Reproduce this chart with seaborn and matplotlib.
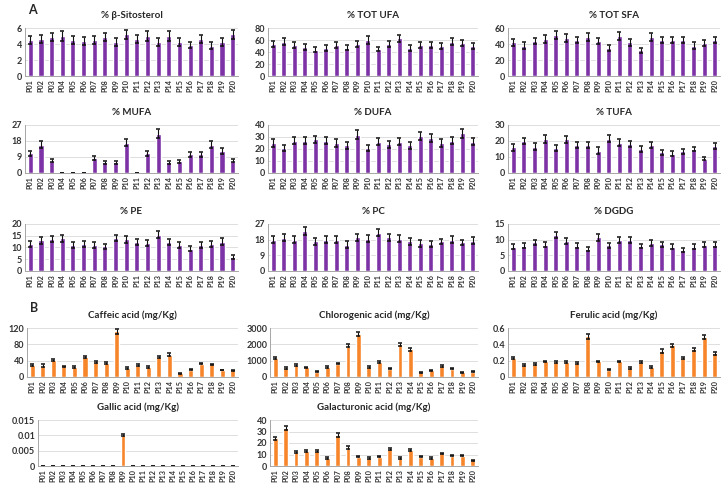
import matplotlib
matplotlib.use("Agg")
import matplotlib.pyplot as plt
import seaborn as sns

# --- data ---
samples = ["P01", "P02", "P03", "P04", "P05", "P06", "P07", "P08", "P09", "P10",
           "P11", "P12", "P13", "P14", "P15", "P16", "P17", "P18", "P19", "P20"]

sito = [4.5, 4.6, 4.9, 5.0, 4.5, 4.4, 4.5, 4.9, 4.2, 5.2, 4.6, 5.0, 4.3, 5.0, 4.3, 3.9, 4.6, 3.8, 4.3, 5.2]
sito_err = [0.5, 0.5, 0.5, 0.6, 0.5, 0.5, 0.5, 0.5, 0.5, 0.6, 0.5, 0.6, 0.5, 0.6, 0.5, 0.4, 0.5, 0.4, 0.5, 0.6]

ufa = [53, 57, 51, 48, 44, 47, 51, 47, 53, 60, 45, 53, 63, 47, 51, 51, 50, 57, 55, 50]
ufa_err = [5, 6, 5, 5, 4, 5, 5, 4, 5, 6, 4, 5, 6, 5, 5, 5, 5, 6, 5, 5]

sfa = [42, 38, 44, 46, 51, 48, 45, 49, 44, 35, 50, 42, 32, 49, 45, 45, 45, 38, 41, 45]
sfa_err = [4, 4, 4, 5, 5, 5, 4, 5, 4, 4, 5, 4, 3, 5, 4, 4, 4, 4, 4, 4]

mufa = [11, 16, 7, 0, 0, 0, 8.5, 6, 6, 17, 0, 11, 22, 6, 6.5, 10.5, 10.5, 16, 12.5, 7]
mufa_err = [1.5, 2, 1, 0, 0, 0, 1.2, 1, 1, 2, 0, 1.5, 2.5, 0.8, 0.8, 1.5, 1.5, 2, 1.8, 1]

dufa = [25, 21, 27, 27, 28, 27, 25, 23, 32, 21, 26, 24, 26, 23, 31, 29, 25, 27, 33, 26]
dufa_err = [3, 2.5, 3, 3, 3, 3, 3, 3, 3.5, 2.5, 3, 3, 3, 3, 3.5, 3.5, 3, 3, 3.5, 3]

tufa = [16, 20, 16.5, 21.5, 15.5, 21, 17.5, 17.5, 14, 21.5, 19, 18, 15, 17.5, 13, 12, 13.5, 15, 9, 17]
tufa_err = [2, 2, 2, 2.5, 2, 2, 2, 2, 2, 2, 2, 2, 2, 2, 1.5, 1.5, 1.5, 1.5, 1, 2]

pe = [11.5, 13, 13.5, 14, 11, 11.5, 11, 10.5, 14, 13.5, 12.5, 12, 15.5, 12.5, 11, 9.5, 11, 11.5, 12.5, 6]
pe_err = [1.2, 1.5, 1.3, 1.5, 1.2, 1.2, 1.2, 1.2, 1.3, 1.5, 1.3, 1.3, 1.5, 1.3, 1.2, 1, 1.2, 1.2, 1.5, 0.7]

pc = [18, 19, 18, 23, 17, 18, 18, 15, 19.5, 18.5, 22, 19.5, 18.5, 17, 16, 15.5, 17, 18, 16.5, 17.5]
pc_err = [2, 2, 2, 2.5, 2, 2, 2, 2, 2, 2, 2, 2, 2, 2, 2, 2, 1.5, 2, 1.5, 2]

dgdg = [7.7, 8.1, 9.1, 8.4, 11.6, 9.5, 8.1, 7.0, 10.7, 8.2, 10, 10, 7.9, 9, 8.5, 7.7, 6.8, 7.8, 8.4, 8.4]
dgdg_err = [0.8, 0.8, 0.9, 0.8, 1, 0.9, 0.8, 0.7, 1, 0.8, 1, 1, 0.7, 0.9, 0.8, 0.8, 0.6, 0.8, 0.8, 0.8]

caffeic = [30, 28, 41, 26, 25, 49, 36, 34, 112, 22, 30, 24, 49, 55, 9, 18, 33, 31, 17, 16]
caffeic_err = [2, 3, 3, 2, 2, 3, 2, 2, 6, 2, 2, 2, 3, 4, 1, 2, 2, 2, 1, 1]

chloro = [1150, 550, 750, 600, 330, 620, 820, 1920, 2630, 620, 920, 500, 2000, 1700, 280, 420, 680, 500, 280, 320]
chloro_err = [60, 40, 50, 40, 30, 40, 50, 100, 120, 40, 60, 40, 100, 100, 30, 30, 40, 30, 30, 30]

ferulic = [0.23, 0.15, 0.16, 0.19, 0.18, 0.18, 0.17, 0.50, 0.19, 0.09, 0.19, 0.11, 0.18, 0.12, 0.32, 0.39, 0.23, 0.34, 0.49, 0.29]
ferulic_err = [0.01, 0.015, 0.01, 0.01, 0.01, 0.01, 0.01, 0.03, 0.01, 0.01, 0.01, 0.01, 0.01, 0.01, 0.02, 0.02, 0.01, 0.02, 0.025, 0.015]

gallic = [0, 0, 0, 0, 0, 0, 0, 0, 0.01, 0, 0, 0, 0, 0, 0, 0, 0, 0, 0, 0]
gallic_err = [0, 0, 0, 0, 0, 0, 0, 0, 0.0003, 0, 0, 0, 0, 0, 0, 0, 0, 0, 0, 0]

galact = [24, 33, 12, 13, 13, 7, 27, 16, 8, 7, 8, 15, 7, 14, 8, 7, 11, 9, 9, 5]
galact_err = [1.5, 2, 1, 1, 1, 0.5, 1.5, 1, 0.5, 0.5, 0.5, 1, 0.5, 1, 0.5, 0.5, 0.5, 0.5, 0.5, 0.5]

purple = "#7D33A6"
orange = "#F7862A"

sns.set_theme(style="white")
plt.rcParams['font.family'] = ['Lato', 'DejaVu Sans']

W, H = 723, 492
fig = plt.figure(figsize=(W / 100, H / 100), dpi=100)

# (title, values, errors, ticks, color, left, top, right, bottom) in pixels
panels = [
    ("% β-Sitosterol", sito, sito_err, [0, 2, 4, 6], purple, 25, 28, 238, 76),
    ("% TOT UFA", ufa, ufa_err, [0, 20, 40, 60, 80], purple, 268, 28, 478, 76),
    ("% TOT SFA", sfa, sfa_err, [0, 20, 40, 60], purple, 508, 28, 720, 76),
    ("% MUFA", mufa, mufa_err, [0, 9, 18, 27], purple, 25, 125, 238, 173),
    ("% DUFA", dufa, dufa_err, [0, 10, 20, 30, 40], purple, 268, 125, 478, 173),
    ("% TUFA", tufa, tufa_err, [0, 10, 20, 30], purple, 508, 125, 720, 173),
    ("% PE", pe, pe_err, [0, 5, 10, 15, 20], purple, 25, 224, 238, 271),
    ("% PC", pc, pc_err, [0, 9, 18, 27], purple, 268, 224, 478, 271),
    ("% DGDG", dgdg, dgdg_err, [0, 5, 10, 15], purple, 508, 224, 720, 271),
    ("Caffeic acid (mg/Kg)", caffeic, caffeic_err, [0, 40, 80, 120], orange, 27, 328, 238, 377),
    ("Chlorogenic acid (mg/Kg)", chloro, chloro_err, [0, 1000, 2000, 3000], orange, 270, 328, 478, 377),
    ("Ferulic acid (mg/Kg)", ferulic, ferulic_err, [0, 0.2, 0.4, 0.6], orange, 508, 328, 720, 377),
    ("Gallic acid (mg/Kg)", gallic, gallic_err, [0, 0.005, 0.01, 0.015], orange, 38, 420, 238, 466),
    ("Galacturonic acid (mg/Kg)", galact, galact_err, [0, 10, 20, 30, 40], orange, 270, 420, 478, 466),
]

for title, vals, errs, ticks, color, l, t, r, b in panels:
    ax = fig.add_axes([l / W, 1 - b / H, (r - l) / W, (b - t) / H])
    sns.barplot(x=samples, y=vals, color=color, saturation=1, width=0.48, ax=ax)
    ax.errorbar(range(len(samples)), vals, yerr=errs, fmt="none", ecolor="#111111",
                elinewidth=0.8, capsize=1.7, capthick=1.1)
    ax.set_ylim(ticks[0], ticks[-1])
    ax.set_yticks(ticks)
    ax.set_yticklabels([f"{v:g}" for v in ticks])
    ax.set_xlim(-0.5, len(samples) - 0.5)
    ax.yaxis.grid(True, color="#d9d9d9", lw=0.6)
    ax.set_axisbelow(True)
    for side in ["top", "right"]:
        ax.spines[side].set_visible(False)
    for side in ["left", "bottom"]:
        ax.spines[side].set_color("#a6a6a6")
        ax.spines[side].set_linewidth(0.7)
    ax.tick_params(axis="y", length=0, labelsize=6.5, pad=2, labelcolor="#333333")
    ax.tick_params(axis="x", length=0, labelsize=5.2, pad=2, labelcolor="#333333", rotation=90)
    ax.set_xticks([i + 0.5 for i in range(len(samples) - 1)], minor=True)
    ax.tick_params(axis="x", which="minor", length=2.5, color="#a6a6a6", width=0.6)
    for lab in ax.get_xticklabels() + ax.get_yticklabels():
        lab.set_fontweight("bold")
    ax.set_xlabel("")
    ax.set_ylabel("")
    ax.set_title(title, fontsize=7, fontweight="bold", color="#262626", pad=7)

fig.text(28 / W, 1 - 10 / H, "A", fontsize=9, fontweight="bold", va="center")
fig.text(30 / W, 1 - 308 / H, "B", fontsize=9, fontweight="bold", va="center")

fig.savefig("out.png", dpi=100)
